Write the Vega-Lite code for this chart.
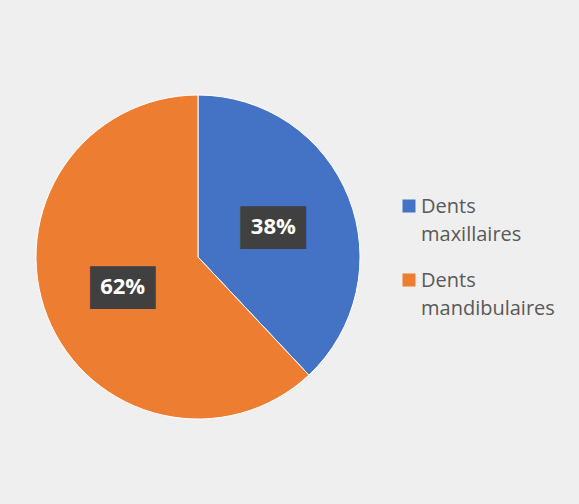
{
  "$schema": "https://vega.github.io/schema/vega-lite/v6.json",
  "width": 396,
  "height": 494,
  "autosize": {"type": "none"},
  "padding": {"left": 0, "top": 10, "right": 183, "bottom": 0},
  "background": "#efefef",
  "config": {"view": {"stroke": null}, "style": {"guide-label": {"lineHeight": 28, "dy": -9}}},
  "data": {
    "values": [
      {"categorie": "Dents maxillaires", "part": 0.38},
      {"categorie": "Dents mandibulaires", "part": 0.62}
    ]
  },
  "encoding": {
    "theta": {"field": "part", "type": "quantitative", "stack": true},
    "order": {"field": "part", "type": "quantitative", "sort": "ascending"}
  },
  "layer": [
    {
      "mark": {"type": "arc", "outerRadius": 162, "stroke": "#ffffff", "strokeWidth": 1},
      "encoding": {
        "color": {
          "field": "categorie",
          "type": "nominal",
          "sort": ["Dents maxillaires", "Dents mandibulaires"],
          "scale": {"domain": ["Dents maxillaires", "Dents mandibulaires"], "range": ["#4472C4", "#ED7D31"]},
          "legend": {
            "orient": "none",
            "legendX": 399,
            "legendY": 186,
            "title": null,
            "padding": 0,
            "symbolType": "square",
            "symbolSize": 169,
            "symbolStrokeWidth": 0,
            "labelFont": "Open Sans",
            "labelFontSize": 20,
            "labelColor": "#595959",
            "labelOffset": 2,
            "labelLimit": 300,
            "rowPadding": 25,
            "labelExpr": "split(datum.label, ' ')",
            "labelBaseline": "top"
          }
        }
      }
    },
    {
      "mark": {"type": "text", "radius": 81, "text": "███", "font": "DejaVu Sans Mono", "fontSize": 36, "dy": 2, "color": "#404040", "baseline": "middle", "align": "center"}
    },
    {
      "mark": {"type": "text", "radius": 81, "font": "Open Sans", "fontWeight": "bold", "fontSize": 22, "color": "#ffffff", "baseline": "middle", "align": "center"},
      "encoding": {"text": {"field": "part", "type": "quantitative", "format": ".0%"}}
    }
  ]
}
